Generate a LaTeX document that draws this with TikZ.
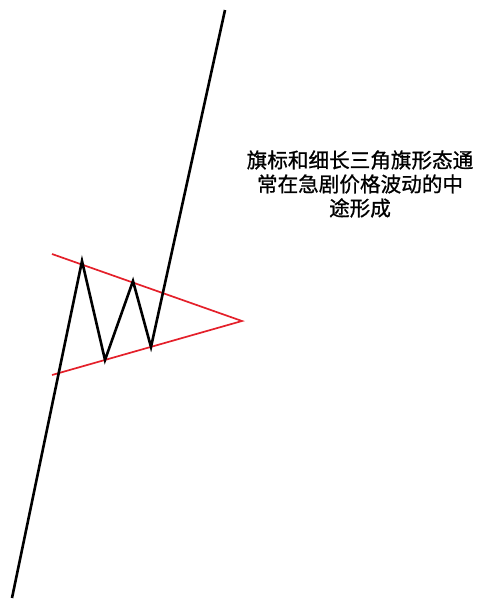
\documentclass[tikz,border=0pt]{standalone}
\usepackage{fontspec}
\newfontfamily\cjk[FakeBold=0.9]{Noto Sans CJK SC}
\definecolor{flagred}{RGB}{228,32,42}
\tikzset{
	price/.style={line width=2.6pt, line join=miter},
	bound/.style={flagred, line width=1.7pt},
	note/.style={align=center, font=\cjk\fontsize{20.6}{24}\selectfont}
}
\begin{document}
\begin{tikzpicture}[x=1pt, y=-1pt]
	\useasboundingbox (0,0) rectangle (479,600);

	\coordinate (start) at (12, 598);
	\coordinate (peakA) at (82, 261);
	\coordinate (lowA) at (105, 360);
	\coordinate (peakB) at (133, 281);
	\coordinate (lowB) at (151, 347);
	\coordinate (finish) at (225, 10);

	\coordinate (upper) at (52, 254);
	\coordinate (lower) at (52, 375);
	\coordinate (apex) at (242, 321);

	\draw[bound] (upper) -- (apex) -- (lower);
	\draw[price] (start) -- (peakA) -- (lowA) -- (peakB) -- (lowB) -- (finish);

	\node[note] (label) at (360, 184) {旗标和细长三角旗形态通\\常在急剧价格波动的中\\途形成};

\end{tikzpicture}
\end{document}
